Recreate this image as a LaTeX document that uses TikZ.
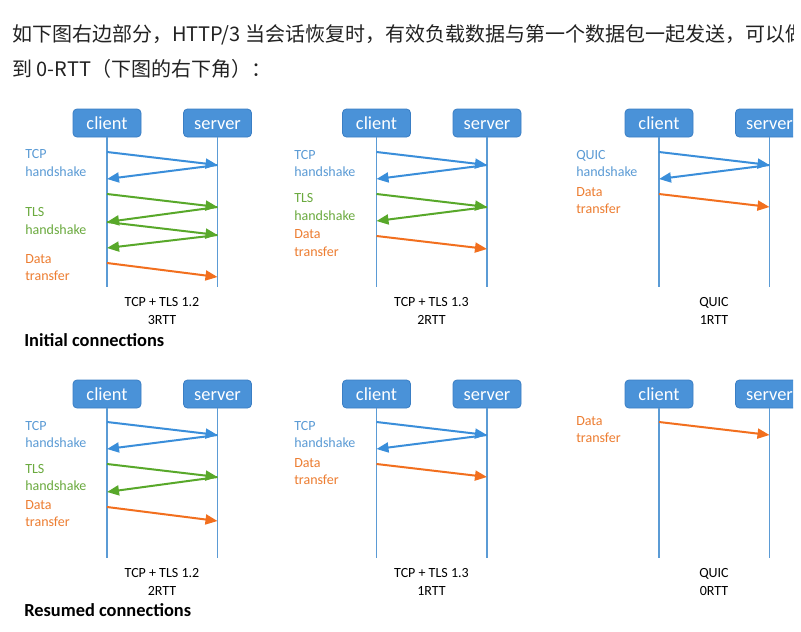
\documentclass[tikz,border=0pt]{standalone}
\usepackage{fontspec}
\setmainfont{Carlito}
\newfontfamily\cjk{Noto Sans CJK SC}
\usetikzlibrary{arrows.meta}
\definecolor{boxfill}{HTML}{4A92D8}
\definecolor{boxdraw}{HTML}{3A7EC4}
\definecolor{lifec}{HTML}{5B9BD5}
\definecolor{arrblue}{HTML}{3A8EDA}
\definecolor{arrgreen}{HTML}{58A82A}
\definecolor{arrorange}{HTML}{F26F1E}
\definecolor{txtblue}{HTML}{5B9BD5}
\definecolor{txtgreen}{HTML}{6BAA3F}
\definecolor{txtorange}{HTML}{ED7D31}
\definecolor{toptext}{HTML}{222222}
\newcommand\MkPanel[3]{% prefix, client x, y offset
  \node[hbox] (#1cl) at (#2,{#3+123}) {client};
  \node[hbox] (#1sv) at ({#2+110.5},{#3+123}) {server};
  \coordinate (#1clend) at (#1cl.south |- 0,{#3+287});
  \coordinate (#1svend) at (#1sv.south |- 0,{#3+287});
  \draw[life] (#1cl.south) -- (#1clend);
  \draw[life] (#1sv.south) -- (#1svend);
}
\newcommand\MkMsg[6]{% name, style, x1, y1, x2, y2
  \coordinate (#1a) at (#3,#4);
  \coordinate (#1b) at (#5,#6);
  \draw[#2] (#1a) -- (#1b);
}
\begin{document}
\begin{tikzpicture}[x=0.75pt,y=-0.75pt,
  hbox/.style={draw=boxdraw, fill=boxfill, rounded corners=3pt, minimum width=51pt,
    minimum height=21pt, inner sep=0pt, text=white, line width=0.6pt,
    text height=9.6pt, text depth=0pt,
    font=\fontsize{13.8}{16}\selectfont},
  life/.style={draw=lifec, line width=0.9pt},
  msgline/.style={line width=1.5pt, -{Triangle[length=9pt,width=7.5pt]}},
  mblue/.style={msgline, draw=arrblue},
  mgreen/.style={msgline, draw=arrgreen},
  morange/.style={msgline, draw=arrorange},
  lbl/.style={anchor=base west, inner sep=0pt, font=\fontsize{10.5}{12}\selectfont},
  lblue/.style={lbl, text=txtblue},
  lgreen/.style={lbl, text=txtgreen},
  lorange/.style={lbl, text=txtorange},
  captxt/.style={anchor=base, inner sep=0pt, text=black, font=\fontsize{10.5}{12}\selectfont},
  headtxt/.style={anchor=base west, inner sep=0pt, text=black, font=\bfseries\fontsize{13.8}{16}\selectfont},
  toptxt/.style={anchor=base west, inner sep=0pt, text=toptext, font=\cjk\fontsize{15}{18}\selectfont},
]
\useasboundingbox (0,0) rectangle (801,632);
\fill[white] (0,0) rectangle (801,632);
\clip (0,0) rectangle (793,632);

% top text
\node[toptxt] (t1) at (12,41) {如下图右边部分，HTTP/3 当会话恢复时，有效负载数据与第一个数据包一起发送，可以};
\node[toptxt, anchor=base west] (t1b) at (t1.base east) {做};
\node[toptxt] (t2) at (12,76) {到 0-RTT（下图的右下角）：};

% ---------- Panel A: TCP + TLS 1.2 initial ----------
\MkPanel{A}{107}{0}
\MkMsg{A1}{mblue}{107}{152}{217.5}{165}
\MkMsg{A2}{mblue}{217.5}{165}{107}{179}
\MkMsg{A3}{mgreen}{107}{194}{217.5}{207}
\MkMsg{A4}{mgreen}{217.5}{207}{107}{222}
\MkMsg{A5}{mgreen}{107}{222}{217.5}{235}
\MkMsg{A6}{mgreen}{217.5}{235}{107}{248}
\MkMsg{A7}{morange}{107}{263}{217.5}{277}
\node[lblue] (Al1) at (25,158.5) {TCP};
\node[lblue] (Al2) at (25,176.5) {handshake};
\node[lgreen] (Al3) at (25,216.7) {TLS};
\node[lgreen] (Al4) at (25,234) {handshake};
\node[lorange] (Al5) at (25,263.3) {Data};
\node[lorange] (Al6) at (25,280.7) {transfer};
\node[captxt] (Ac1) at (162,306.7) {TCP + TLS 1.2};
\node[captxt] (Ac2) at (162,324.3) {3RTT};

% ---------- Panel B: TCP + TLS 1.3 initial ----------
\MkPanel{B}{376.5}{0}
\MkMsg{B1}{mblue}{376.5}{152}{487}{165}
\MkMsg{B2}{mblue}{487}{165}{376.5}{179}
\MkMsg{B3}{mgreen}{376.5}{194}{487}{207}
\MkMsg{B4}{mgreen}{487}{207}{376.5}{221}
\MkMsg{B5}{morange}{376.5}{236}{487}{249}
\node[lblue] (Bl1) at (294,159) {TCP};
\node[lblue] (Bl2) at (294,176.7) {handshake};
\node[lgreen] (Bl3) at (294,202.3) {TLS};
\node[lgreen] (Bl4) at (294,220) {handshake};
\node[lorange] (Bl5) at (294,238.7) {Data};
\node[lorange] (Bl6) at (294,256) {transfer};
\node[captxt] (Bc1) at (431.5,306.7) {TCP + TLS 1.3};
\node[captxt] (Bc2) at (431.5,324.3) {2RTT};

% ---------- Panel C: QUIC initial ----------
\MkPanel{C}{659}{0}
\MkMsg{C1}{mblue}{659}{152}{769.5}{165}
\MkMsg{C2}{mblue}{769.5}{165}{659}{179}
\MkMsg{C3}{morange}{659}{194}{769.5}{207}
\node[lblue] (Cl1) at (576,159.3) {QUIC};
\node[lblue] (Cl2) at (576,176.7) {handshake};
\node[lorange] (Cl3) at (576,196) {Data};
\node[lorange] (Cl4) at (576,213.3) {transfer};
\node[captxt] (Cc1) at (714,306.7) {QUIC};
\node[captxt] (Cc2) at (714,324.3) {1RTT};

\node[headtxt] (H1) at (24,346) {Initial connections};

% ---------- Panel D: TCP + TLS 1.2 resumed ----------
\MkPanel{D}{107}{271}
\MkMsg{D1}{mblue}{107}{422}{217.5}{435}
\MkMsg{D2}{mblue}{217.5}{435}{107}{449}
\MkMsg{D3}{mgreen}{107}{464}{217.5}{477}
\MkMsg{D4}{mgreen}{217.5}{477}{107}{492}
\MkMsg{D5}{morange}{107}{507}{217.5}{521}
\node[lblue] (Dl1) at (25,430) {TCP};
\node[lblue] (Dl2) at (25,447.7) {handshake};
\node[lgreen] (Dl3) at (25,473.3) {TLS};
\node[lgreen] (Dl4) at (25,490.7) {handshake};
\node[lorange] (Dl5) at (25,509.3) {Data};
\node[lorange] (Dl6) at (25,526.7) {transfer};
\node[captxt] (Dc1) at (162,577.7) {TCP + TLS 1.2};
\node[captxt] (Dc2) at (162,595.3) {2RTT};

% ---------- Panel E: TCP + TLS 1.3 resumed ----------
\MkPanel{E}{376.5}{271}
\MkMsg{E1}{mblue}{376.5}{422}{487}{435}
\MkMsg{E2}{mblue}{487}{435}{376.5}{449}
\MkMsg{E3}{morange}{376.5}{464}{487}{477}
\node[lblue] (El1) at (294,430) {TCP};
\node[lblue] (El2) at (294,447.7) {handshake};
\node[lorange] (El3) at (294,467) {Data};
\node[lorange] (El4) at (294,484.3) {transfer};
\node[captxt] (Ec1) at (431.5,577.7) {TCP + TLS 1.3};
\node[captxt] (Ec2) at (431.5,595.3) {1RTT};

% ---------- Panel F: QUIC resumed ----------
\MkPanel{F}{659}{271}
\MkMsg{F1}{morange}{659}{422}{769.5}{435}
\node[lorange] (Fl1) at (576,425) {Data};
\node[lorange] (Fl2) at (576,442.7) {transfer};
\node[captxt] (Fc1) at (714,577.7) {QUIC};
\node[captxt] (Fc2) at (714,595.3) {0RTT};

\node[headtxt] (H2) at (24,616) {Resumed connections};
\end{tikzpicture}
\end{document}
